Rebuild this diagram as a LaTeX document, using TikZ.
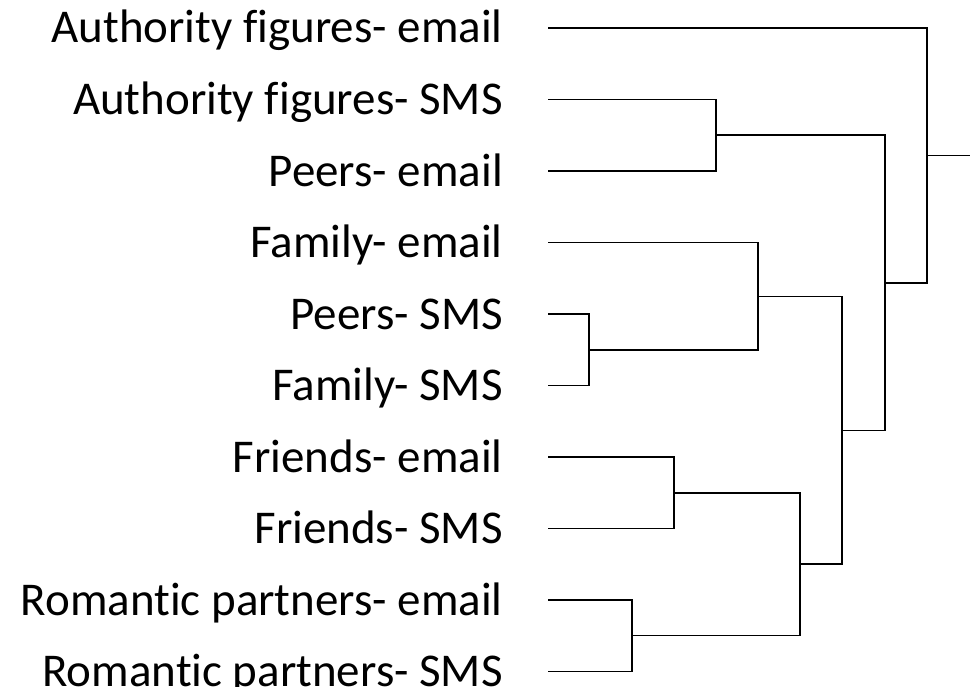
\documentclass[tikz,border=0pt]{standalone}
\usepackage{fontspec}
\setmainfont{Carlito}[Ligatures=NoCommon]
\begin{document}
\begin{tikzpicture}[x=1pt,y=-1pt,
    leaf/.style={anchor=base east, inner sep=0pt, font=\fontsize{47}{50}\selectfont},
    link/.style={line width=1.5pt}]
    \useasboundingbox (0,0) rectangle (971,687);
    % leaf labels and the free ends of the leaf lines
    \foreach \n/\y/\t in {1/28/Authority figures- email, 2/99.5/Authority figures- SMS,
        3/171/Peers- email, 4/242.7/Family- email, 5/314/Peers- SMS,
        6/385.7/Family- SMS, 7/457/Friends- email, 8/528.7/Friends- SMS,
        9/600/Romantic partners- email, 10/671.3/Romantic partners- SMS} {
        \node[leaf] (l\n) at (503,\y+15) {\t};
        \coordinate (s\n) at (548,\y);
    }
    % joints of the tree
    \coordinate (c23) at (716,135.25);
    \coordinate (c56) at (589,350);
    \coordinate (c456) at (758,296.3);
    \coordinate (c78) at (674,492.8);
    \coordinate (c910) at (632,635.6);
    \coordinate (c710) at (800,564.2);
    \coordinate (c410) at (842,430.3);
    \coordinate (c210) at (885,282.8);
    \coordinate (root) at (927,155.4);
    \coordinate (stub) at (970,155.4);
    % brackets
    \draw[link] (s2) -| (c23) |- (s3);
    \draw[link] (s5) -| (c56) |- (s6);
    \draw[link] (s4) -| (c456) |- (c56);
    \draw[link] (s7) -| (c78) |- (s8);
    \draw[link] (s9) -| (c910) |- (s10);
    \draw[link] (c78) -| (c710) |- (c910);
    \draw[link] (c456) -| (c410) |- (c710);
    \draw[link] (c23) -| (c210) |- (c410);
    \draw[link] (s1) -| (root) |- (c210);
    \draw[link] (root) -- (stub);
\end{tikzpicture}
\end{document}
